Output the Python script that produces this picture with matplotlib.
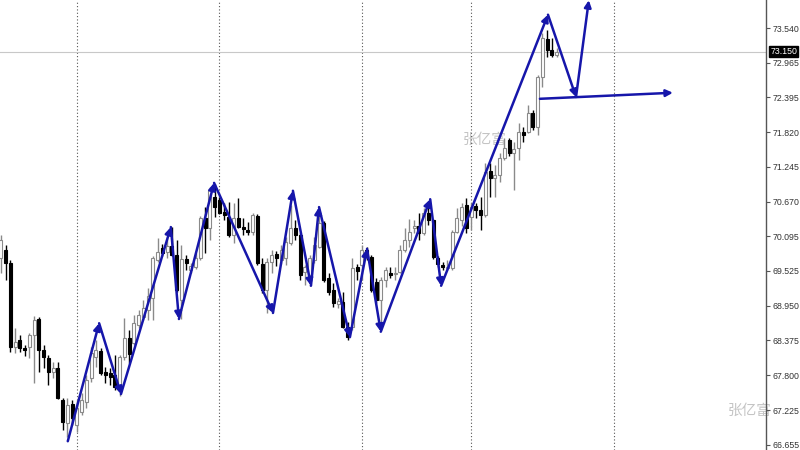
import numpy as np
import matplotlib
matplotlib.use("Agg")
import matplotlib.pyplot as plt
import matplotlib.transforms as mtransforms

# candles (H4 bars)
opens = [69.74, 69.87, 69.66, 68.27, 68.38, 68.25, 68.27, 68.47, 68.73, 68.22,
         68.09, 67.85, 67.92, 67.39, 67.01, 67.33, 66.98, 67.19, 67.36, 67.76,
         68.10, 68.20, 67.85, 67.84, 67.80, 67.56, 68.10, 68.42, 68.33, 68.63,
         68.76, 68.88, 69.08, 69.71, 69.90, 69.84, 69.94, 69.79, 69.04, 69.72,
         69.54, 69.59, 69.74, 70.40, 70.23, 70.75, 70.70, 70.50, 70.42, 70.12,
         70.40, 70.25, 70.20, 70.17, 70.43, 69.64, 69.21, 69.67, 69.80, 69.71,
         69.74, 69.99, 70.23, 70.12, 69.51, 69.46, 69.71, 69.92, 70.32, 69.41,
         69.21, 68.98, 69.01, 68.60, 68.60, 69.59, 69.62, 69.87, 69.76, 69.34,
         69.04, 69.38, 69.49, 69.47, 69.51, 69.87, 70.04, 70.23, 70.27, 70.15,
         70.48, 70.37, 69.74, 69.62, 69.57, 69.57, 70.17, 70.37, 70.61, 70.42,
         70.60, 70.53, 70.45, 71.18, 71.06, 71.11, 71.39, 71.69, 71.47, 71.56,
         71.82, 71.82, 72.14, 71.90, 72.73, 73.36, 73.18, 73.09]
highs = [70.12, 69.95, 69.71, 68.58, 68.47, 68.30, 68.50, 68.78, 68.76, 68.30,
         68.14, 68.02, 68.02, 67.42, 67.42, 67.39, 67.39, 67.51, 67.80, 68.27,
         68.38, 68.25, 67.94, 67.92, 68.14, 68.14, 68.75, 68.55, 68.80, 68.88,
         69.04, 69.24, 69.77, 70.07, 69.97, 70.07, 70.25, 70.04, 69.95, 69.79,
         69.66, 69.82, 70.43, 70.58, 70.91, 70.96, 70.75, 70.65, 70.66, 70.65,
         70.73, 70.40, 70.33, 70.48, 70.47, 69.74, 69.74, 69.87, 69.85, 69.95,
         70.09, 70.61, 70.37, 70.15, 69.62, 69.79, 70.09, 70.53, 70.35, 69.49,
         69.33, 69.08, 69.18, 68.68, 69.74, 69.64, 69.95, 69.92, 69.79, 69.41,
         69.43, 69.59, 69.59, 69.59, 69.95, 70.23, 70.38, 70.37, 70.48, 70.57,
         70.66, 70.38, 69.77, 69.67, 69.71, 70.20, 70.57, 70.65, 70.73, 70.65,
         70.65, 70.75, 71.31, 71.31, 71.28, 71.47, 71.72, 71.72, 71.66, 71.97,
         71.90, 72.27, 72.19, 72.76, 73.46, 73.51, 73.38, 73.21]
lows = [69.49, 69.38, 68.18, 68.17, 68.18, 68.12, 68.09, 67.67, 67.85, 67.92,
        67.64, 67.76, 67.41, 66.90, 66.78, 66.98, 66.86, 67.14, 67.26, 67.69,
        67.94, 67.80, 67.67, 67.64, 67.56, 67.46, 68.05, 68.00, 68.30, 68.58,
        68.71, 68.71, 68.71, 69.67, 69.77, 69.74, 69.77, 69.18, 68.73, 69.54,
        69.49, 69.56, 69.71, 69.82, 70.04, 70.42, 70.47, 70.37, 70.09, 69.99,
        70.23, 70.12, 70.12, 70.12, 69.62, 69.16, 68.83, 69.49, 69.61, 69.64,
        69.62, 69.95, 70.04, 69.38, 69.29, 69.28, 69.66, 69.90, 69.34, 69.13,
        68.93, 68.91, 68.58, 68.38, 68.55, 69.38, 69.38, 69.71, 69.18, 69.00,
        68.55, 69.26, 69.41, 69.38, 69.49, 69.84, 69.92, 70.15, 70.04, 70.12,
        70.28, 69.72, 69.59, 69.54, 69.54, 69.54, 70.15, 70.27, 70.15, 70.20,
        70.40, 70.20, 70.42, 70.75, 70.75, 71.00, 71.36, 71.42, 70.86, 71.36,
        71.66, 71.81, 71.86, 71.77, 72.57, 73.06, 73.06, 73.06]
closes = [70.04, 69.66, 68.27, 68.35, 68.25, 68.22, 68.47, 68.71, 68.22, 68.10,
          67.85, 67.92, 67.42, 67.03, 67.31, 67.09, 67.26, 67.39, 67.72, 68.17,
          68.22, 67.84, 67.80, 67.77, 67.61, 68.10, 68.42, 68.15, 68.66, 68.80,
          68.91, 69.11, 69.74, 69.84, 69.82, 69.94, 69.79, 69.21, 69.72, 69.66,
          69.61, 69.74, 70.40, 70.23, 70.86, 70.58, 70.48, 70.45, 70.12, 70.40,
          70.25, 70.22, 70.17, 70.45, 69.66, 69.21, 69.67, 69.79, 69.74, 69.87,
          70.00, 70.23, 70.12, 69.46, 69.59, 69.74, 69.95, 70.32, 69.38, 69.18,
          69.00, 69.03, 68.60, 68.43, 69.57, 69.52, 69.87, 69.76, 69.21, 69.04,
          69.38, 69.54, 69.46, 69.49, 69.87, 70.04, 70.17, 70.27, 70.15, 70.48,
          70.37, 69.76, 69.64, 69.59, 69.59, 70.17, 70.40, 70.58, 70.23, 70.58,
          70.53, 70.45, 71.16, 71.06, 71.11, 71.39, 71.56, 71.47, 71.54, 71.82,
          71.77, 72.14, 71.90, 72.73, 73.38, 73.18, 73.09, 73.15]

# zigzag drawn over the chart (bar index, price)
zz_bar = [14.1, 20.7, 25.3, 35.8, 37.5, 44.9, 57.3, 61.5, 65.3, 67.0,
          73.5, 77.1, 80.0, 90.4, 92.7, 115.2, 121.1, 123.8]
zz_price = [66.71, 68.66, 67.49, 70.25, 68.73, 70.98, 68.83, 70.85, 69.28, 70.58,
            68.43, 69.89, 68.52, 70.71, 69.28, 73.76, 72.40, 74.00]
level_bar = [113.5, 141.5]
level_price = [72.37, 72.47]

separators = [16, 46, 76, 99, 129]
price_ticks = [73.540, 72.965, 72.395, 71.820, 71.245, 70.670, 70.095,
               69.525, 68.950, 68.375, 67.800, 67.225, 66.655]
last_price = 73.150
watermark = "张亿富"
wm_bar = [101.9, 157.7]
wm_price = [71.69, 67.22]

plt.rcParams['font.family'] = ['Liberation Sans', 'DejaVu Sans']

fig = plt.figure(figsize=(8, 4.5), dpi=100)
ax = fig.add_axes([0, 0, 766 / 800, 1])

o = np.array(opens)
h = np.array(highs)
l = np.array(lows)
c = np.array(closes)
x = np.arange(len(o))
up = c >= o

# wicks
ax.vlines(x[up], l[up], h[up], color='#8a8a8a', lw=1, zorder=2)
ax.vlines(x[~up], l[~up], h[~up], color='#000000', lw=1, zorder=2)
# bodies
w = 0.62
body_lo = np.minimum(o, c)
body_h = np.maximum(np.abs(c - o), 0.015)
ax.bar(x[up], body_h[up], bottom=body_lo[up], width=w,
       color='white', edgecolor='#8a8a8a', linewidth=0.8, zorder=3)
ax.bar(x[~up], body_h[~up], bottom=body_lo[~up], width=w,
       color='black', edgecolor='black', linewidth=0.8, zorder=3)

# period separators
for s in separators:
    ax.axvline(s, color='#555555', lw=0.8, ls=(0, (1, 2)), zorder=1)

# current price line
ax.axhline(last_price, color='#c8c8c8', lw=0.8, zorder=1)

# zigzag with arrows at every turn
blue = '#1616aa'
for i in range(len(zz_bar) - 1):
    ax.annotate('', xy=(zz_bar[i + 1], zz_price[i + 1]),
                xytext=(zz_bar[i], zz_price[i]),
                arrowprops=dict(arrowstyle='-|>', color=blue, lw=1.8,
                                mutation_scale=10, shrinkA=0, shrinkB=0),
                zorder=5, annotation_clip=False)
ax.annotate('', xy=(level_bar[1], level_price[1]),
            xytext=(level_bar[0], level_price[0]),
            arrowprops=dict(arrowstyle='-|>', color=blue, lw=1.8,
                            mutation_scale=10, shrinkA=0, shrinkB=0),
            zorder=5)

# watermarks
for xb, yp in zip(wm_bar, wm_price):
    ax.text(xb, yp, watermark, color='#c4c4c4', fontsize=10.5,
            family=['Noto Sans CJK SC', 'DejaVu Sans'], ha='center', va='center',
            zorder=0, clip_on=False)

ax.set_xlim(-0.17, 161.1)
ax.set_ylim(66.565, 74.003)

# right price scale
ax.yaxis.tick_right()
ax.set_yticks(price_ticks)
ax.set_yticklabels(['%.3f' % t for t in price_ticks])
ax.tick_params(axis='y', length=3, width=0.8, color='#555555',
               labelsize=6.3, labelcolor='#333333', pad=1.5)
ax.set_xticks([])
for side in ['top', 'left', 'bottom']:
    ax.spines[side].set_visible(False)
ax.spines['right'].set_color('#555555')
ax.spines['right'].set_linewidth(1)

ax.text(1.0055, last_price, '%.3f' % last_price, color='white', fontsize=6.3,
        ha='left', va='center', zorder=10,
        transform=mtransforms.blended_transform_factory(ax.transAxes, ax.transData),
        bbox=dict(boxstyle='square,pad=0.12', fc='black', ec='black'),
        clip_on=False)

fig.savefig('out.png', dpi=100)
